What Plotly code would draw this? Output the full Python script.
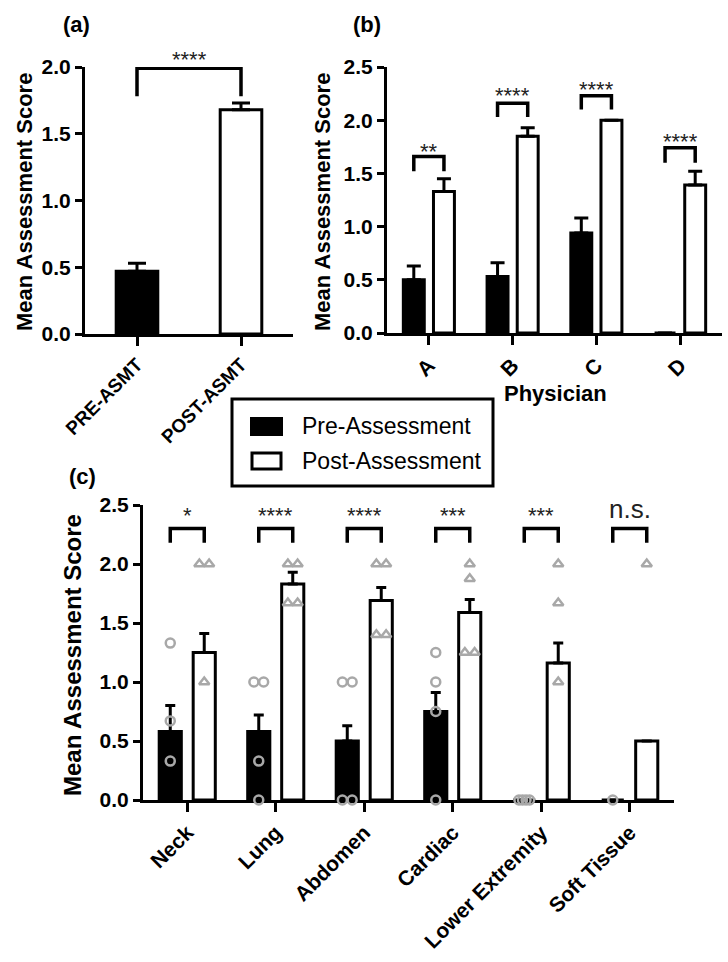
import plotly.graph_objects as go

W, H = 728, 962
FONT = "Liberation Sans, Arial, Helvetica, sans-serif"

# ---------------- data ----------------
# Panel (a)
a_categories = ["PRE-ASMT", "POST-ASMT"]
a_means = [0.47, 1.68]
a_sem = [0.06, 0.05]
a_sig = "****"
a_bracket_top = 1.99
a_bracket_arm = 1.78
a_star_y = 2.11

# Panel (b)
b_categories = ["A", "B", "C", "D"]
b_pre = [0.50, 0.53, 0.94, 0.0]
b_pre_sem = [0.13, 0.13, 0.14, None]
b_post = [1.33, 1.85, 2.00, 1.39]
b_post_sem = [0.12, 0.08, None, 0.13]
b_sig = ["**", "****", "****", "****"]
b_bracket_top = [1.66, 2.16, 2.23, 1.74]
b_bracket_arm = [1.52, 2.03, 2.10, 1.60]
b_star_y = [1.77, 2.30, 2.35, 1.87]

# Panel (c)
c_categories = ["Neck", "Lung", "Abdomen", "Cardiac", "Lower Extremity", "Soft Tissue"]
c_pre = [0.58, 0.58, 0.50, 0.75, 0.0, 0.0]
c_pre_sem = [0.22, 0.14, 0.13, 0.16, None, None]
c_post = [1.25, 1.83, 1.69, 1.59, 1.16, 0.50]
c_post_sem = [0.16, 0.10, 0.11, 0.11, 0.17, None]
c_pre_points = [[1.33, 0.67, 0.33], [1.0, 1.0, 0.33, 0.0], [1.0, 1.0, 0.0, 0.0],
                [1.25, 1.0, 0.75, 0.0], [0.0, 0.0, 0.0, 0.0], [0.0]]
c_post_points = [[2.0, 2.0, 1.0], [2.0, 2.0, 1.67, 1.67], [2.0, 2.0, 1.4, 1.4],
                 [2.0, 1.875, 1.25, 1.25], [2.0, 1.67, 1.0], [2.0]]
c_sig = ["*", "****", "****", "***", "***", "n.s."]
c_bracket_top = 2.30
c_bracket_arm = 2.18
c_star_y = 2.47

# ---------------- style constants ----------------
B_OFF, B_W = 0.18, 0.25
C_OFF, C_W = 0.192, 0.25
A_W = 0.40
A_TOP, B_TOP, C_TOP = 2.0, 2.5, 2.5
GREY = "#a8a8a8"
STAR_COLOR = "#222222"


def px_x(p):
    return p / W


def px_y(p):
    return 1 - p / H


def err(arr, cap):
    return dict(type="data", array=arr, arrayminus=[0] * len(arr), symmetric=False,
                color="black", thickness=3, width=cap, visible=True)


def bar(x, y, sem, fill, xa, ya, width, offset, cap):
    return go.Bar(x=x, y=y, width=width, offset=offset,
                  marker=dict(color=fill, line=dict(color="black", width=3)),
                  error_y=err(sem, cap), xaxis=xa, yaxis=ya, showlegend=False,
                  hoverinfo="skip")


def jitter(points, center, spacing_pair=0.11, spacing_many=0.04):
    xs, ys = [], []
    for i, vals in enumerate(points):
        seen = {}
        for v in vals:
            seen[v] = seen.get(v, 0) + 1
        for v, n in seen.items():
            sp = spacing_pair if n == 2 else spacing_many
            for k in range(n):
                xs.append(i + center + (k - (n - 1) / 2) * sp)
                ys.append(v)
    return xs, ys


def brackets(n, off, arm, top):
    xs, ys = [], []
    for i in range(n):
        a_ = arm[i] if isinstance(arm, list) else arm
        t_ = top[i] if isinstance(top, list) else top
        xs += [i - off, i - off, i + off, i + off, None]
        ys += [a_, t_, t_, a_, None]
    return xs, ys


fig = go.Figure()

# Panel (a) bars
fig.add_trace(bar([0], [a_means[0]], [a_sem[0]], "black", "x", "y", A_W, -A_W / 2, 9))
fig.add_trace(bar([1], [a_means[1]], [a_sem[1]], "white", "x", "y", A_W, -A_W / 2, 9))
fig.add_trace(go.Scatter(x=[0, 0, 1, 1], y=[a_bracket_arm, a_bracket_top, a_bracket_top, a_bracket_arm],
                         mode="lines", line=dict(color="black", width=3.5), xaxis="x", yaxis="y",
                         showlegend=False, hoverinfo="skip"))

# Panel (b)
nb = len(b_categories)
fig.add_trace(bar(list(range(nb)), b_pre, b_pre_sem, "black", "x2", "y2", B_W, -B_OFF - B_W / 2, 7))
fig.add_trace(bar(list(range(nb)), b_post, b_post_sem, "white", "x2", "y2", B_W, B_OFF - B_W / 2, 7))
bx, by = brackets(nb, B_OFF, b_bracket_arm, b_bracket_top)
fig.add_trace(go.Scatter(x=bx, y=by, mode="lines", line=dict(color="black", width=3.5),
                         xaxis="x2", yaxis="y2", showlegend=False, hoverinfo="skip"))

# Panel (c)
nc = len(c_categories)
fig.add_trace(bar(list(range(nc)), c_pre, c_pre_sem, "black", "x3", "y3", C_W, -C_OFF - C_W / 2, 5))
fig.add_trace(bar(list(range(nc)), c_post, c_post_sem, "white", "x3", "y3", C_W, C_OFF - C_W / 2, 5))
px_, py_ = jitter(c_pre_points, -C_OFF)
fig.add_trace(go.Scatter(x=px_, y=py_, mode="markers", cliponaxis=False,
                         marker=dict(symbol="circle-open", size=9, color=GREY, line=dict(width=2.5, color=GREY)),
                         xaxis="x3", yaxis="y3", showlegend=False, hoverinfo="skip"))
qx_, qy_ = jitter(c_post_points, C_OFF)
fig.add_trace(go.Scatter(x=qx_, y=qy_, mode="markers", cliponaxis=False,
                         marker=dict(symbol="triangle-up-open", size=9, color=GREY, line=dict(width=2.5, color=GREY)),
                         xaxis="x3", yaxis="y3", showlegend=False, hoverinfo="skip"))
cx, cy = brackets(nc, C_OFF, c_bracket_arm, c_bracket_top)
fig.add_trace(go.Scatter(x=cx, y=cy, mode="lines", line=dict(color="black", width=3.5),
                         xaxis="x3", yaxis="y3", showlegend=False, hoverinfo="skip"))


# ---------------- axes ----------------
def xaxis(dom, cats, size, anchor):
    return dict(domain=dom, anchor=anchor, range=[-0.5, len(cats) - 0.5],
                tickmode="array", tickvals=list(range(len(cats))), ticktext=cats,
                tickangle=-45, showline=True, linecolor="black", linewidth=3,
                ticks="outside", ticklen=9, tickwidth=3, tickcolor="black",
                showgrid=False, zeroline=False, layer="below traces",
                tickfont=dict(family=FONT, size=size, color="black", weight="bold"),
                fixedrange=True)


def yaxis(dom, top, anchor):
    return dict(domain=dom, anchor=anchor, range=[0, top],
                tickmode="array", tickvals=[v / 2 for v in range(int(top * 2) + 1)],
                tickformat=".1f", showline=True, linecolor="black", linewidth=3,
                ticks="outside", ticklen=7, tickwidth=3, tickcolor="black",
                showgrid=False, zeroline=False,
                tickfont=dict(family=FONT, size=21, color="black", weight="bold"),
                fixedrange=True)


annotations = []


def note(x, y, text, size, bold=False, xref="paper", yref="paper", angle=0,
         xanchor="center", yanchor="middle", yshift=0, color="black"):
    annotations.append(dict(x=x, y=y, xref=xref, yref=yref, text=text, showarrow=False,
                            textangle=angle, xanchor=xanchor, yanchor=yanchor, yshift=yshift,
                            font=dict(family=FONT, size=size, color=color,
                                      weight="bold" if bold else "normal")))


# significance labels (positioned via the axis domain so labels above the range still show)
note(0.5, a_star_y / A_TOP, a_sig, 22, xref="x", yref="y domain", yshift=-7, color=STAR_COLOR)
for i, s in enumerate(b_sig):
    note(i, b_star_y[i] / B_TOP, s, 22, xref="x2", yref="y2 domain", yshift=-7, color=STAR_COLOR)
for i, s in enumerate(c_sig):
    if s == "n.s.":
        note(i, c_star_y / C_TOP, s, 26, xref="x3", yref="y3 domain", color=STAR_COLOR)
    else:
        note(i, c_star_y / C_TOP, s, 22, xref="x3", yref="y3 domain", yshift=-7, color=STAR_COLOR)

# panel letters
note(px_x(76), px_y(24), "(a)", 22, bold=True)
note(px_x(367), px_y(24), "(b)", 22, bold=True)
note(px_x(82), px_y(476), "(c)", 22, bold=True)

# axis titles
note(px_x(25), px_y(202), "Mean Assessment Score", 22, bold=True, angle=-90)
note(px_x(323), px_y(202), "Mean Assessment Score", 22, bold=True, angle=-90)
note(px_x(72), px_y(655), "Mean Assessment Score", 24, bold=True, angle=-90)
note(px_x(555), px_y(393), "Physician", 22, bold=True)

# legend
note(px_x(300), px_y(426), "Pre-Assessment", 23, xanchor="left")
note(px_x(300), px_y(461), "Post-Assessment", 23, xanchor="left")
shapes = [
    dict(type="rect", xref="paper", yref="paper", x0=px_x(232), x1=px_x(493),
         y0=px_y(486), y1=px_y(399), line=dict(color="black", width=3), fillcolor="rgba(0,0,0,0)"),
    dict(type="rect", xref="paper", yref="paper", x0=px_x(251), x1=px_x(282),
         y0=px_y(435), y1=px_y(418), line=dict(color="black", width=2), fillcolor="black"),
    dict(type="rect", xref="paper", yref="paper", x0=px_x(252), x1=px_x(281),
         y0=px_y(469), y1=px_y(453), line=dict(color="black", width=3), fillcolor="white"),
]

fig.update_layout(
    width=W, height=H, margin=dict(l=0, r=0, t=0, b=0),
    template="none", paper_bgcolor="white", plot_bgcolor="white",
    barmode="overlay", showlegend=False,
    xaxis=xaxis([px_x(85), px_x(293)], a_categories, 19, "y"),
    yaxis=yaxis([px_y(334), px_y(67)], A_TOP, "x"),
    xaxis2=xaxis([px_x(387), px_x(722)], b_categories, 21, "y2"),
    yaxis2=yaxis([px_y(333), px_y(67)], B_TOP, "x2"),
    xaxis3=xaxis([px_x(143), px_x(674)], c_categories, 21, "y3"),
    yaxis3=yaxis([px_y(800), px_y(505)], C_TOP, "x3"),
    annotations=annotations, shapes=shapes,
)

fig.write_html("out.html", config={"displayModeBar": False},
               post_script="document.body.style.margin='0';")
